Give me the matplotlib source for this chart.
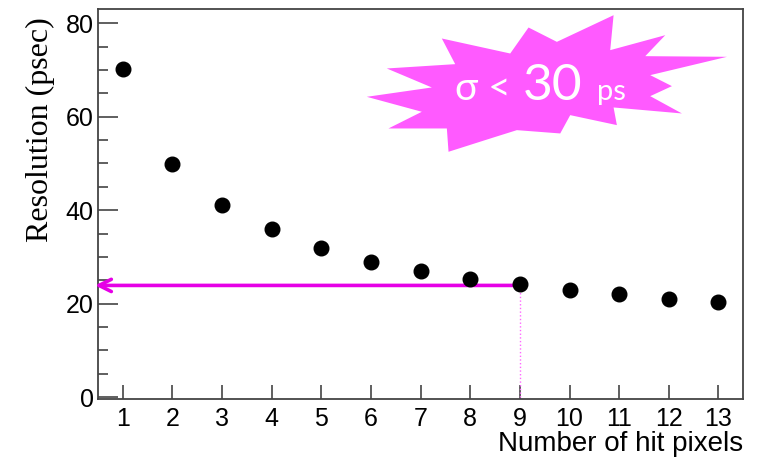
import numpy as np
import matplotlib.pyplot as plt
from matplotlib.patches import Polygon

# timing resolution vs. number of pixels hit
n_pixels = [1, 2, 3, 4, 5, 6, 7, 8, 9, 10, 11, 12, 13]
resolution = [70.1, 49.8, 41.2, 35.9, 32.0, 29.0, 26.9, 25.2, 24.1, 22.9, 22.0, 21.1, 20.4]
marked_n = 9
marked_res = 23.9

yticks = [0, 20, 40, 60, 80]

# starburst outline (axes fraction)
burst = [(0.4165, 0.7752), (0.5173, 0.7992), (0.4475, 0.8479), (0.5535, 0.8590),
         (0.5328, 0.9248), (0.6388, 0.8863), (0.6672, 0.9530), (0.7111, 0.9162),
         (0.7990, 0.9846), (0.7938, 0.8949), (0.8791, 0.9333), (0.8481, 0.8795),
         (0.9747, 0.8778), (0.8558, 0.8308), (0.8894, 0.8026), (0.8558, 0.7769),
         (0.9049, 0.7325), (0.7990, 0.7479), (0.8041, 0.7026), (0.7318, 0.7282),
         (0.7163, 0.6812), (0.6491, 0.6897), (0.6129, 0.6709), (0.5432, 0.6342),
         (0.5406, 0.6940), (0.4501, 0.6940), (0.5018, 0.7368)]

plt.rcParams['font.family'] = 'Liberation Sans'

fig = plt.figure(figsize=(7.6, 4.59), dpi=100)
ax = fig.add_axes([0.129, 0.1307, 0.849, 0.8493])

ax.set_xlim(0.5, 13.5)
ax.set_ylim(-0.4, 83.0)

# guide lines to the point at 9 pixels
ax.plot([marked_n, marked_n], [0, marked_res], color='#ff66ff', lw=1.0, ls=':', zorder=2)
ax.annotate('', xy=(0.44, marked_res), xytext=(marked_n, marked_res),
            arrowprops=dict(arrowstyle='->', color='#e600e6', lw=2.6,
                            mutation_scale=22, shrinkA=0, shrinkB=0),
            annotation_clip=False, zorder=3)

ax.plot(n_pixels, resolution, 'o', color='black', markersize=10.5, zorder=4)

ax.set_xticks(n_pixels)
ax.set_yticks(yticks)
ax.set_yticks(np.arange(0, 81, 5), minor=True)
ax.tick_params(axis='both', which='both', direction='in', labelsize=18,
               color='#444444', width=1.2)
ax.tick_params(axis='y', which='major', length=20/1.39, pad=3)
ax.tick_params(axis='y', which='minor', length=10/1.39)
ax.tick_params(axis='x', which='major', length=14/1.39, pad=6)
for s in ax.spines.values():
    s.set_color('#444444')
    s.set_linewidth(1.3)

ax.set_xlabel('Number of hit pixels', fontsize=20, loc='right', labelpad=0)
ax.set_ylabel('Resolution (psec)', fontsize=23, family='Liberation Serif')
ax.yaxis.set_label_coords(-0.066, 0.69)

ax.add_patch(Polygon(burst, closed=True, transform=ax.transAxes,
                     facecolor='#ff5aff', edgecolor='none', zorder=5))
ax.text(0.553, 0.767, '\u03c3 <', transform=ax.transAxes, color='white',
        fontsize=28, family='Lato', va='baseline', ha='left', zorder=6)
ax.text(0.659, 0.767, '30', transform=ax.transAxes, color='white',
        fontsize=37, family='Lato', va='baseline', ha='left', zorder=6)
ax.text(0.774, 0.767, 'ps', transform=ax.transAxes, color='white',
        fontsize=21, family='Lato', va='baseline', ha='left', zorder=6)

fig.savefig('out.png', dpi=100)
